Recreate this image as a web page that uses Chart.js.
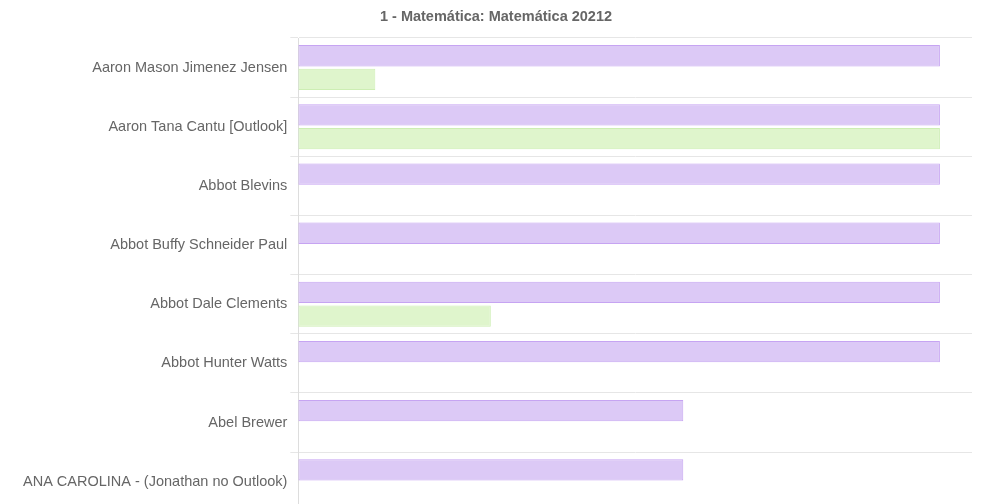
<!DOCTYPE html>
<html>
<head>
<meta charset="utf-8">
<script src="https://cdn.jsdelivr.net/npm/chart.js@4"></script>
<style>
  html, body { margin: 0; padding: 0; background: #fff; overflow: hidden; }
  canvas { display: block; }
</style>
</head>
<body>
<canvas id="chart" width="981" height="523"></canvas>
<script>
// ------------------------------------------------------------
// Data
// ------------------------------------------------------------
const chartTitle = '1 - Matemática: Matemática 20212';

const students = [
  'Aaron Mason Jimenez Jensen',
  'Aaron Tana Cantu [Outlook]',
  'Abbot Blevins',
  'Abbot Buffy Schneider Paul',
  'Abbot Dale Clements',
  'Abbot Hunter Watts',
  'Abel Brewer',
  'ANA CAROLINA - (Jonathan no Outlook)',
];

const purpleValues = [10, 10, 10, 10, 10, 10, 6, 6];
const greenValues  = [1.2, 10, 0, 0, 3, 0, 0, 0];

// ------------------------------------------------------------
// Chart
// ------------------------------------------------------------
const FONT = 'Liberation Sans, Arial, sans-serif';

const ctx = document.getElementById('chart');
new Chart(ctx, {
  type: 'bar',
  data: {
    labels: students,
    datasets: [
      {
        label: 'A',
        data: purpleValues,
        backgroundColor: '#dcc9f6',
        borderColor: '#c6a4f2',
        borderWidth: 1,
        borderSkipped: false,
      },
      {
        label: 'B',
        data: greenValues,
        backgroundColor: '#dff5cc',
        borderColor: '#cdeeb3',
        borderWidth: 1,
        borderSkipped: false,
      },
    ],
  },
  options: {
    indexAxis: 'y',
    responsive: false,
    animation: false,
    devicePixelRatio: 1,
    layout: { padding: { left: 20, right: 9, top: 0, bottom: 0 } },
    plugins: {
      legend: { display: false },
      tooltip: { enabled: false },
      title: {
        display: true,
        text: chartTitle,
        color: '#666',
        font: { family: FONT, size: 14.5, weight: 'bold' },
        padding: { top: 8, bottom: 12.6 },
      },
    },
    scales: {
      x: {
        display: false,
        min: 0,
        max: 10.5,
      },
      y: {
        grid: { color: '#e6e6e6', tickLength: 8 },
        border: { color: '#dddddd' },
        ticks: {
          color: '#666',
          font: { family: FONT, size: 14.5 },
        },
      },
    },
  },
});
</script>
</body>
</html>
